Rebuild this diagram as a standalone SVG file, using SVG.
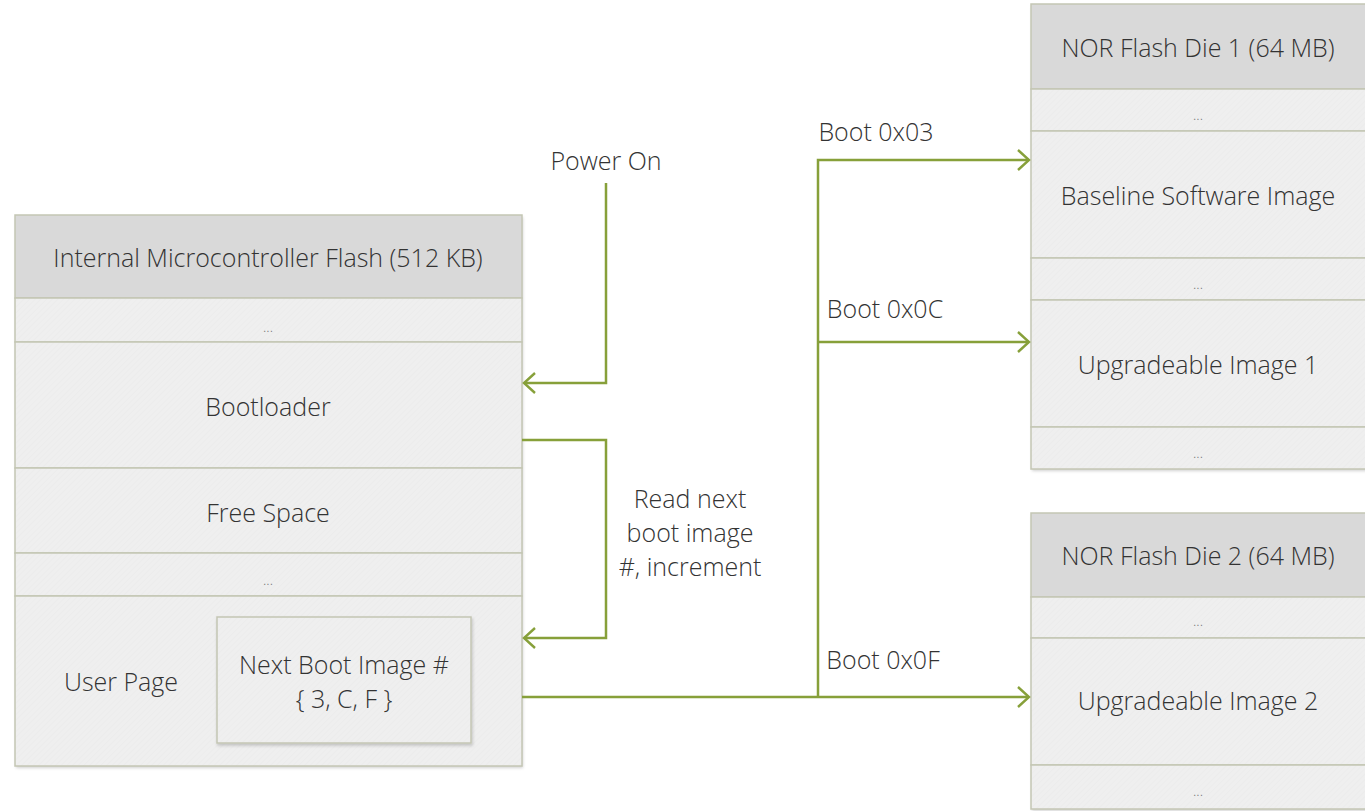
<svg xmlns="http://www.w3.org/2000/svg" width="1365" height="811" viewBox="0 0 1365 811">
<style>
.t{font-family:"Open Sans","Liberation Sans",sans-serif;font-size:25px;fill:#333;font-weight:300;text-anchor:middle;dominant-baseline:central}
.d{font-family:"Open Sans","Liberation Sans",sans-serif;font-size:14px;fill:#777;font-weight:300;text-anchor:middle;dominant-baseline:central}
.hd{fill:#d9d9d9;stroke:#c4c6b4;stroke-width:1.5}
.rw{fill:url(#hatch);stroke:#c4c6b4;stroke-width:1.5}
.c{fill:none;stroke:#87a03a;stroke-width:2.5}
</style>
<defs>
<pattern id="hatch" width="4" height="4" patternUnits="userSpaceOnUse" patternTransform="rotate(45)">
<rect width="4" height="4" fill="#efefef"/>
<line x1="0" y1="0" x2="0" y2="4" stroke="#e9e9e9" stroke-width="1"/>
</pattern>
<filter id="sh" x="-5%" y="-5%" width="110%" height="110%">
<feDropShadow dx="1" dy="2" stdDeviation="1.5" flood-color="#000" flood-opacity="0.18"/>
</filter>
<marker id="ah" markerWidth="16" markerHeight="24" refX="13" refY="12" orient="auto" markerUnits="userSpaceOnUse">
<path d="M2,2 L13,12 L2,22" fill="none" stroke="#87a03a" stroke-width="2.4"/>
</marker>
</defs>

<g id="internal-flash">
<rect x="15" y="215" width="507" height="551" fill="#efefef" filter="url(#sh)"/>
<rect class="hd" x="15" y="215" width="507" height="83"/>
<rect class="rw" x="15" y="298" width="507" height="44"/>
<rect class="rw" x="15" y="342" width="507" height="126"/>
<rect class="rw" x="15" y="468" width="507" height="85"/>
<rect class="rw" x="15" y="553" width="507" height="43"/>
<rect class="rw" x="15" y="596" width="507" height="170"/>
<text class="t" x="268" y="257">Internal Microcontroller Flash (512 KB)</text>
<text class="d" x="268" y="326">...</text>
<text class="t" x="268" y="406">Bootloader</text>
<text class="t" x="268" y="512">Free Space</text>
<text class="d" x="268" y="579">...</text>
<text class="t" x="121" y="681">User Page</text>
</g>

<g id="next-boot-image">
<rect class="rw" x="217" y="617" width="254" height="126" filter="url(#sh)"/>
<text class="t" x="344" y="664">Next Boot Image #</text>
<text class="t" x="344" y="698">{ 3, C, F }</text>
</g>

<g id="nor-die-1">
<rect x="1031" y="4" width="340" height="465" fill="#efefef" filter="url(#sh)"/>
<rect class="hd" x="1031" y="4" width="340" height="85"/>
<rect class="rw" x="1031" y="89" width="340" height="42"/>
<rect class="rw" x="1031" y="131" width="340" height="127"/>
<rect class="rw" x="1031" y="258" width="340" height="42"/>
<rect class="rw" x="1031" y="300" width="340" height="127"/>
<rect class="rw" x="1031" y="427" width="340" height="42"/>
<text class="t" x="1198" y="47">NOR Flash Die 1 (64 MB)</text>
<text class="d" x="1198" y="114">...</text>
<text class="t" x="1198" y="195">Baseline Software Image</text>
<text class="d" x="1198" y="283">...</text>
<text class="t" x="1198" y="364">Upgradeable Image 1</text>
<text class="d" x="1198" y="452">...</text>
</g>

<g id="nor-die-2">
<rect x="1031" y="513" width="340" height="296" fill="#efefef" filter="url(#sh)"/>
<rect class="hd" x="1031" y="513" width="340" height="84"/>
<rect class="rw" x="1031" y="597" width="340" height="41"/>
<rect class="rw" x="1031" y="638" width="340" height="127"/>
<rect class="rw" x="1031" y="765" width="340" height="44"/>
<text class="t" x="1198" y="555">NOR Flash Die 2 (64 MB)</text>
<text class="d" x="1198" y="620">...</text>
<text class="t" x="1198" y="700">Upgradeable Image 2</text>
<text class="d" x="1198" y="790">...</text>
</g>

<g id="connectors">
<path class="c" d="M606,183 V383 H524" marker-end="url(#ah)"/>
<path class="c" d="M522,440 H606 V638 H524" marker-end="url(#ah)"/>
<path class="c" d="M522,697 H1029" marker-end="url(#ah)"/>
<path class="c" d="M818,697 V160 H1029" marker-end="url(#ah)"/>
<path class="c" d="M818,342 H1029" marker-end="url(#ah)"/>
<text class="t" x="606" y="160">Power On</text>
<text class="t" x="690" y="498">Read next</text>
<text class="t" x="690" y="532">boot image</text>
<text class="t" x="690" y="566">#, increment</text>
<text class="t" x="876" y="131">Boot 0x03</text>
<text class="t" x="885" y="308">Boot 0x0C</text>
<text class="t" x="883" y="659">Boot 0x0F</text>
</g>
</svg>
